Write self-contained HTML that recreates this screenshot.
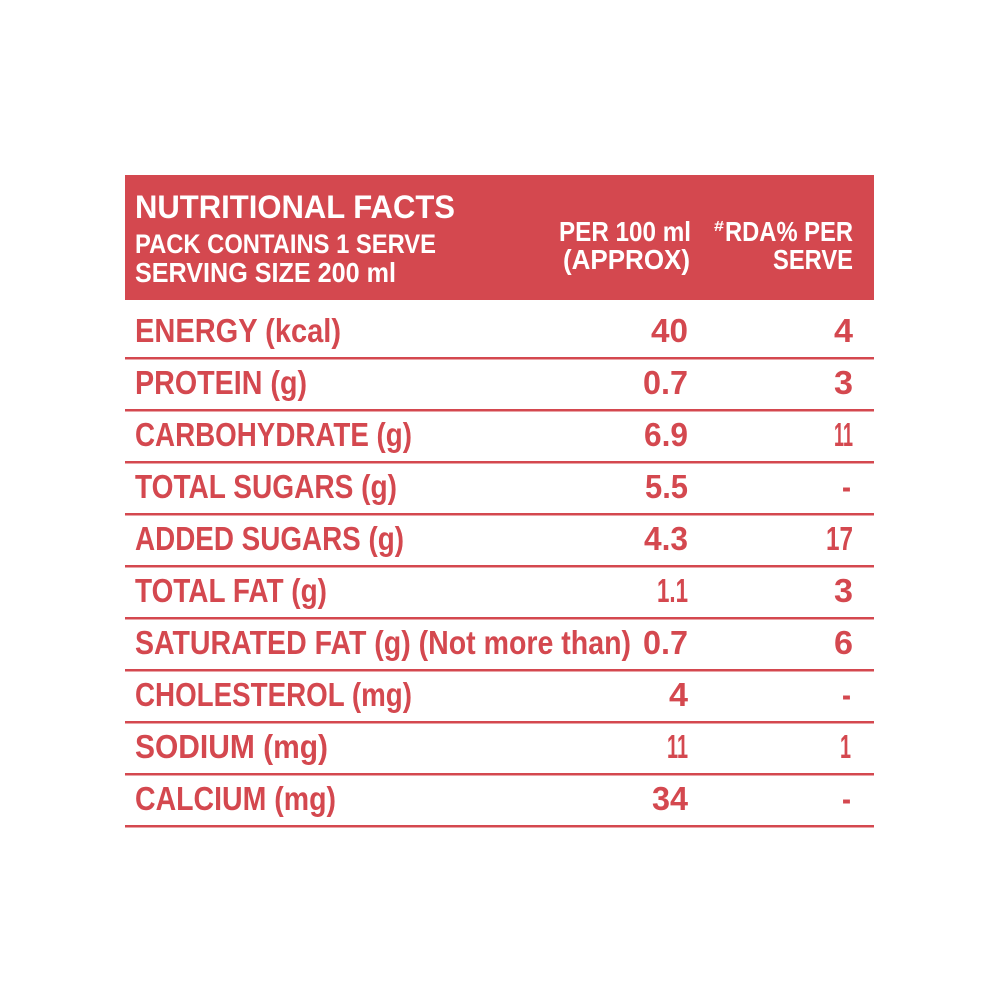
<!DOCTYPE html>
<html>
<head>
<meta charset="utf-8">
<style>
html,body{margin:0;padding:0;background:#fff;}
svg{display:block;}
text{font-family:"Liberation Sans",sans-serif;font-weight:bold;}
</style>
</head>
<body>
<svg width="1000" height="1000" viewBox="0 0 1000 1000" xmlns="http://www.w3.org/2000/svg">
<rect x="0" y="0" width="1000" height="1000" fill="#ffffff"/>
<rect x="125" y="175" width="749" height="125" fill="#d4484f"/>
<g fill="#ffffff">
<text x="135" y="218" font-size="32" textLength="320" lengthAdjust="spacingAndGlyphs">NUTRITIONAL FACTS</text>
<text x="135" y="253" font-size="27" textLength="301" lengthAdjust="spacingAndGlyphs">PACK CONTAINS 1 SERVE</text>
<text x="135" y="282" font-size="28" textLength="261" lengthAdjust="spacingAndGlyphs">SERVING SIZE 200 ml</text>
<text x="559" y="241" font-size="28" textLength="132" lengthAdjust="spacingAndGlyphs">PER 100 ml</text>
<text x="563" y="269" font-size="28" textLength="127" lengthAdjust="spacingAndGlyphs">(APPROX)</text>
<text x="714" y="231" font-size="15" textLength="10" lengthAdjust="spacingAndGlyphs">#</text>
<text x="725" y="241" font-size="28" textLength="128" lengthAdjust="spacingAndGlyphs">RDA% PER</text>
<text x="773" y="269" font-size="28" textLength="80" lengthAdjust="spacingAndGlyphs">SERVE</text>
</g>
<g fill="#d4484f">
<rect x="125" y="357" width="749" height="2.5"/>
<rect x="125" y="409" width="749" height="2.5"/>
<rect x="125" y="461" width="749" height="2.5"/>
<rect x="125" y="513" width="749" height="2.5"/>
<rect x="125" y="565" width="749" height="2.5"/>
<rect x="125" y="617" width="749" height="2.5"/>
<rect x="125" y="669" width="749" height="2.5"/>
<rect x="125" y="721" width="749" height="2.5"/>
<rect x="125" y="773" width="749" height="2.5"/>
<rect x="125" y="825" width="749" height="2.5"/>
</g>
<g fill="#d4484f" font-size="33">
<text x="135" y="342" textLength="206" lengthAdjust="spacingAndGlyphs">ENERGY (kcal)</text>
<text x="135" y="394" textLength="172" lengthAdjust="spacingAndGlyphs">PROTEIN (g)</text>
<text x="135" y="446" textLength="277" lengthAdjust="spacingAndGlyphs">CARBOHYDRATE (g)</text>
<text x="135" y="498" textLength="262" lengthAdjust="spacingAndGlyphs">TOTAL SUGARS (g)</text>
<text x="135" y="550" textLength="269" lengthAdjust="spacingAndGlyphs">ADDED SUGARS (g)</text>
<text x="135" y="602" textLength="192" lengthAdjust="spacingAndGlyphs">TOTAL FAT (g)</text>
<text x="135" y="654" textLength="496" lengthAdjust="spacingAndGlyphs">SATURATED FAT (g) (Not more than)</text>
<text x="135" y="706" textLength="277" lengthAdjust="spacingAndGlyphs">CHOLESTEROL (mg)</text>
<text x="135" y="758" textLength="193" lengthAdjust="spacingAndGlyphs">SODIUM (mg)</text>
<text x="135" y="810" textLength="201" lengthAdjust="spacingAndGlyphs">CALCIUM (mg)</text>

<text x="651" y="342" textLength="37" lengthAdjust="spacingAndGlyphs">40</text>
<text x="643" y="394" textLength="45" lengthAdjust="spacingAndGlyphs">0.7</text>
<text x="644" y="446" textLength="44" lengthAdjust="spacingAndGlyphs">6.9</text>
<text x="645" y="498" textLength="43" lengthAdjust="spacingAndGlyphs">5.5</text>
<text x="644" y="550" textLength="44" lengthAdjust="spacingAndGlyphs">4.3</text>
<text x="657" y="602" textLength="31" lengthAdjust="spacingAndGlyphs">1.1</text>
<text x="643" y="654" textLength="45" lengthAdjust="spacingAndGlyphs">0.7</text>
<text x="669" y="706" textLength="19" lengthAdjust="spacingAndGlyphs">4</text>
<text x="667" y="758" textLength="21" lengthAdjust="spacingAndGlyphs">11</text>
<text x="652" y="810" textLength="36" lengthAdjust="spacingAndGlyphs">34</text>

<text x="834" y="342" textLength="19" lengthAdjust="spacingAndGlyphs">4</text>
<text x="834" y="394" textLength="19" lengthAdjust="spacingAndGlyphs">3</text>
<text x="834" y="446" textLength="19" lengthAdjust="spacingAndGlyphs">11</text>
<text x="842" y="498" textLength="9" lengthAdjust="spacingAndGlyphs">-</text>
<text x="826" y="550" textLength="27" lengthAdjust="spacingAndGlyphs">17</text>
<text x="834" y="602" textLength="19" lengthAdjust="spacingAndGlyphs">3</text>
<text x="834" y="654" textLength="19" lengthAdjust="spacingAndGlyphs">6</text>
<text x="842" y="706" textLength="9" lengthAdjust="spacingAndGlyphs">-</text>
<text x="840" y="758" textLength="11" lengthAdjust="spacingAndGlyphs">1</text>
<text x="842" y="810" textLength="9" lengthAdjust="spacingAndGlyphs">-</text>
</g>
</svg>
</body>
</html>
